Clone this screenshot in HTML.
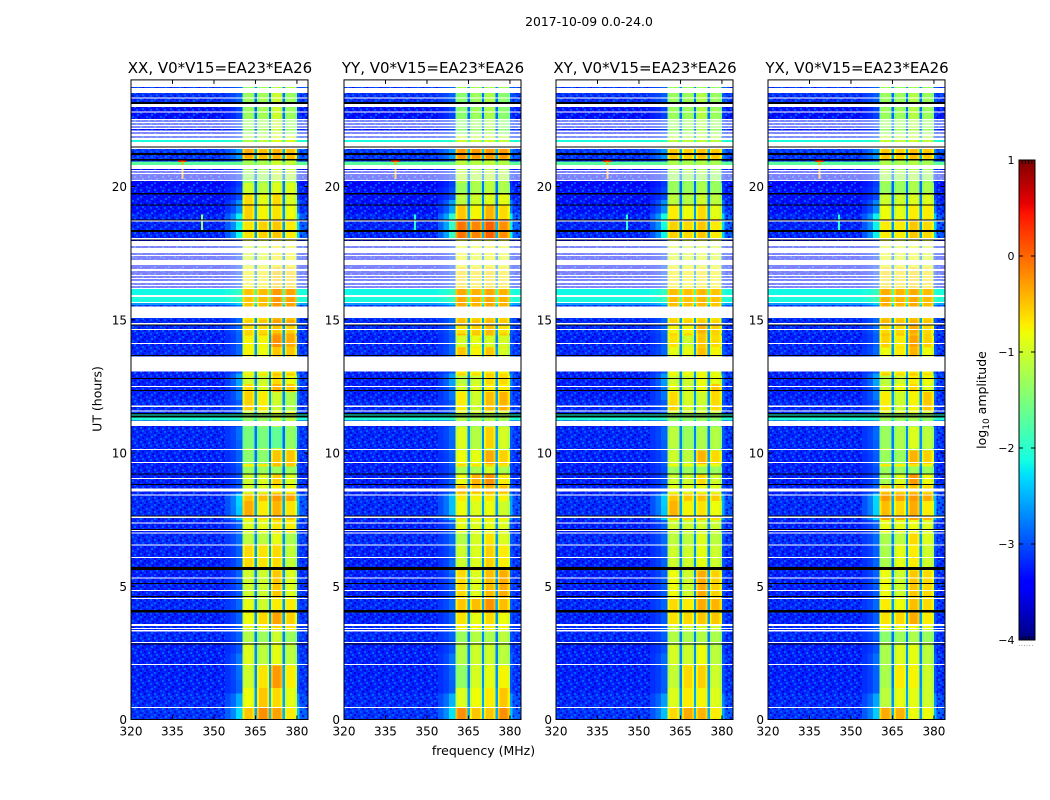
<!DOCTYPE html>
<html>
<head>
<meta charset="utf-8">
<title>2017-10-09 spectrogram panels</title>
<style>
html,body{margin:0;padding:0;background:#fff;}
svg{display:block;}
text{font-family:"DejaVu Sans","Liberation Sans",sans-serif;fill:#000;}
</style>
</head>
<body>
<svg id="chart" xmlns="http://www.w3.org/2000/svg" width="1050" height="800" viewBox="0 0 1050 800">
  <defs>
    <pattern id="speckle" patternUnits="userSpaceOnUse" width="14" height="14">
      <rect x="0" y="0" width="2" height="2" fill="#0070ff" opacity="0.8"/>
      <rect x="4" y="0" width="2" height="2" fill="#0000c8" opacity="0.8"/>
      <rect x="8" y="1" width="2" height="2" fill="#0000e0" opacity="0.7"/>
      <rect x="11" y="2" width="2" height="2" fill="#0080ff" opacity="0.7"/>
      <rect x="2" y="3" width="2" height="2" fill="#0000d8" opacity="0.8"/>
      <rect x="6" y="4" width="2" height="2" fill="#0068ff" opacity="0.8"/>
      <rect x="12" y="5" width="2" height="2" fill="#0000c0" opacity="0.8"/>
      <rect x="9" y="5" width="2" height="2" fill="#0050ff" opacity="0.7"/>
      <rect x="0" y="7" width="2" height="2" fill="#0088ff" opacity="0.6"/>
      <rect x="4" y="7" width="2" height="2" fill="#0000d0" opacity="0.8"/>
      <rect x="8" y="8" width="2" height="2" fill="#0078ff" opacity="0.8"/>
      <rect x="12" y="8" width="2" height="2" fill="#0000e0" opacity="0.7"/>
      <rect x="2" y="10" width="2" height="2" fill="#006cff" opacity="0.8"/>
      <rect x="6" y="11" width="2" height="2" fill="#0000c8" opacity="0.7"/>
      <rect x="10" y="11" width="2" height="2" fill="#0074ff" opacity="0.7"/>
      <rect x="0" y="12" width="2" height="2" fill="#0000d4" opacity="0.7"/>
      <rect x="4" y="12" width="2" height="2" fill="#0050ff" opacity="0.6"/>
    </pattern>
  </defs>
  <text x="589" y="26" font-size="12.4" text-anchor="middle">2017-10-09 0.0-24.0</text>
  <text x="483.5" y="755" font-size="12.5" text-anchor="middle">frequency (MHz)</text>
  <text transform="translate(101.5,399) rotate(-90)" font-size="12.5" text-anchor="middle">UT (hours)</text>
  <text transform="translate(986,400) rotate(-90)" font-size="12.5" text-anchor="middle">log<tspan font-size="9" dy="3">10</tspan><tspan dy="-3"> amplitude</tspan></text>
  <text x="1026" y="646" font-size="7" fill="#777" style="fill:#777" text-anchor="middle" letter-spacing="0.4">......</text>
</svg>
<script>
// ---- data ----
var panelNames = ['XX', 'YY', 'XY', 'YX'];
var baselineName = 'V0*V15=EA23*EA26';
var xTicks = [320, 335, 350, 365, 380];
var yTicks = [0, 5, 10, 15, 20];
var colorbarTicks = [1, 0, -1, -2, -3, -4];
var colorbarTickLabels = ['1', '0', '\u22121', '\u22122', '\u22123', '\u22124'];

// frequency channel edges in MHz
var channelEdges = [320, 330, 340, 350, 354, 356, 358, 360.4, 361.1, 363.9, 364.7, 365.5, 366.2, 369.2, 369.9, 370.7, 371.4, 374.1, 374.8, 375.6, 376.3, 379.2, 379.9, 381, 384];
// share of band power in each channel (0 = background only, 1 = full band level)
var channelWeight = [0, 0, 0, 0, 0.03, 0.06, 0.12, 0.91, 1, 0.93, 0.22, 0.9, 1, 0.93, 0.24, 0.92, 1, 0.93, 0.22, 0.9, 1, 0.91, 0.1, 0.03];
// sub-band index per channel (-1 = none)
var channelSub = [-1, -1, -1, -1, -1, -1, -1, 0, 0, 0, 0, 1, 1, 1, 1, 2, 2, 2, 2, 3, 3, 3, 3, 3];

// half-hour background level, log10 amplitude
var bgLevels = [-3.13, -3.18, -3.23, -3.23, -3.23, -3.23, -3.18, -3.23, -3.18, -3.23, -3.23, -3.23, -3.23, -3.18, -3.23, -3.18, -3.18, -3.23, -3.23, -3.23, -3.2, -3.2, -3.23, -3.18, -3.23, -3.23, -3.23, -3.18, -3.23, -3.18, -3.18, -3.08, -3.3, -3.35, -3.35, -3.35, -3.2, -3.2, -3.3, -3.3, -3.35, -3.35, -3.1, -3.25, -3.3, -3.3, -3.15, -3.1];
// half-hour strength of the skirt beside the band
var shoulderBoost = [2.5, 2, 1.2, 1.2, 1.5, 1, 1, 1, 1, 1, 1, 1.2, 1, 1.2, 1.2, 2.5, 2.5, 1, 1, 1, 1.2, 1.5, 1, 1, 1.5, 2, 1, 1, 1, 1, 1, 1, 1, 1, 1, 1, 3.2, 3.2, 2, 1, 1, 1, 1.5, 1, 1, 1, 1, 1];

// half-hour band level, log10 amplitude
var levelXX = [-0.35, -0.5, -0.85, -0.45, -0.8, -0.95, -0.75, -0.5, -0.6, -0.75, -0.55, -0.85, -0.55, -0.8, -0.75, -0.55, -0.35, -0.8, -1.1, -0.55, -1.1, -1.2, -1.2, -0.9, -0.7, -0.55, -0.75, -0.6, -0.4, -0.4, -0.5, -0.35, -0.6, -0.6, -0.8, -0.8, -0.45, -0.55, -0.7, -0.8, -1.2, -1.1, -0.5, -1, -1.2, -1.2, -1.2, -1.2];
var levelYY = [-0.2, -0.35, -1, -0.75, -0.85, -1, -0.75, -0.6, -0.35, -0.65, -0.55, -0.5, -0.6, -0.85, -0.85, -0.7, -0.7, -0.4, -1, -0.6, -1, -1.2, -1.2, -0.9, -0.8, -0.55, -0.7, -0.55, -0.45, -0.45, -0.5, -0.35, -0.6, -0.6, -0.8, -0.8, 0.05, 0, -0.35, -0.7, -1.1, -1.1, -0.4, -1, -1.2, -1.2, -1.2, -1.2];
var levelXY = [-0.85, -0.8, -1.05, -1.05, -1.1, -1.15, -1, -0.85, -0.75, -0.75, -0.6, -0.9, -0.8, -1, -1, -0.6, -0.5, -0.85, -1.2, -0.8, -1.2, -1.35, -1.35, -1, -0.85, -0.75, -0.85, -0.7, -0.55, -0.55, -0.6, -0.45, -0.7, -0.7, -0.9, -0.9, -0.5, -0.4, -0.75, -1, -1.3, -1.2, -0.6, -1.1, -1.3, -1.3, -1.3, -1.3];
var levelYX = [-0.6, -0.6, -1, -0.85, -1, -1.1, -0.85, -0.7, -0.6, -0.75, -0.5, -0.75, -0.55, -0.85, -0.85, -0.35, -0.3, -0.55, -1.1, -0.7, -1.15, -1.3, -1.3, -0.9, -0.7, -0.55, -0.7, -0.55, -0.5, -0.45, -0.5, -0.4, -0.6, -0.6, -0.85, -0.85, -0.55, -0.55, -0.85, -1, -1.25, -1.2, -0.55, -1.05, -1.3, -1.3, -1.3, -1.3];
var panelLevels = [levelXX, levelYY, levelXY, levelYX];

// sub-band offsets per panel
var subOffsetXX = [-0.15, -0.1, 0.1, 0.05];
var subOffsetYY = [0, -0.05, 0.02, -0.05];
var subOffsetXY = [0, -0.02, 0.03, -0.03];
var subOffsetYX = [0.03, -0.02, 0.05, -0.05];
var panelSubOffsets = [subOffsetXX, subOffsetYY, subOffsetXY, subOffsetYX];

// time windows with per-sub-band levels
var windowStart = [0, 0.45, 1.2, 2.05, 2.9, 3.55, 4.1, 4.6, 5.7, 6.6, 7.6, 8.8, 9.2, 9.6, 10.2, 11.6, 12.3, 12.6, 13.6, 14, 14.5, 18.07, 18.8, 19.3, 19.75, 21.07, 22];
var windowEnd = [0.45, 1.2, 2.05, 2.8, 3.3, 4, 4.55, 5.6, 6.6, 7, 8.2, 9.2, 9.5, 10.1, 10.97, 12.3, 12.6, 12.9, 13.95, 14.4, 14.85, 18.67, 19.3, 19.68, 20.13, 21.4, 23.5];
var windowXX = [[-0.5, -0.2, -0.3, -0.7], [-0.8, -0.5, -0.6, -0.85], [-1, -0.65, -0.25, -0.7], [-0.9, -1.1, -0.85, -1.1], [-1.15, -1.3, -1, -1.3], [-0.8, -0.6, -0.3, -0.55], [-0.85, -1, -0.7, -0.7], [-1, -1, -0.5, -0.9], [-0.6, -0.65, -0.6, -1.05], [-1.1, -1.1, -0.85, -1.2], [-0.35, -0.7, -0.4, -0.65], [-1, -0.9, -0.55, -0.9], [-1.3, -1.3, -1.3, -1.3], [-1.4, -1.4, -0.5, -0.5], [-1.5, -1.5, -1.65, -1.35], [-0.55, -0.7, -1, -1.2], [-0.6, -0.9, -0.4, -0.5], [-1, -1, -0.6, -0.8], [-0.75, -0.8, -0.5, -0.5], [-0.75, -0.75, -0.2, -0.35], [-0.6, -0.6, -0.5, -0.55], [-0.65, -0.55, -0.5, -0.7], [-0.55, -0.75, -0.65, -0.8], [-0.6, -0.85, -0.6, -0.9], [-1, -1.1, -0.9, -0.9], [-0.35, -0.45, -0.4, -0.45], [-1.3, -1.25, -1, -1.3]];
var windowYY = [[-0.2, -0.5, -0.5, -0.2], [-0.9, -0.8, -0.7, -0.5], [-1.35, -0.95, -0.85, -0.75], [-1.15, -1, -1, -1.1], [-1.3, -1.15, -1.2, -1.1], [-0.65, -0.85, -0.6, -0.8], [-0.5, -0.45, -0.2, -0.45], [-0.6, -0.9, -0.45, -0.35], [-1, -0.9, -0.55, -0.7], [-1.15, -0.95, -0.65, -0.9], [-0.8, -0.9, -0.8, -1], [-0.8, -0.4, -0.2, -0.7], [-1.2, -1.2, -1, -1.2], [-0.8, -0.85, -0.35, -0.55], [-0.9, -1.15, -0.55, -0.95], [-0.7, -1, -0.45, -0.4], [-0.95, -0.9, -0.7, -0.7], [-1.1, -1, -0.6, -0.6], [-0.5, -0.75, -0.5, -0.95], [-0.95, -0.85, -0.95, -0.95], [-0.65, -0.55, -0.45, -0.65], [-0.05, -0.15, 0.05, -0.2], [-0.5, -0.75, -0.4, -0.6], [-1.1, -1, -0.9, -0.85], [-1.3, -1.2, -1.1, -1.2], [-0.25, -0.25, -0.25, -0.25], [-1.4, -1.3, -1.2, -1.4]];
var windowXY = [[-0.6, -0.35, -0.4, -0.7], [-0.9, -0.7, -0.75, -0.9], [-1.05, -0.6, -0.55, -1], [-0.95, -1, -0.8, -1.1], [-1.15, -1.2, -1.15, -1.2], [-0.65, -0.6, -0.5, -0.5], [-0.6, -0.7, -0.35, -0.4], [-0.8, -1, -0.35, -0.55], [-1, -1, -0.85, -1], [-1.1, -1.1, -0.9, -1.1], [-0.4, -0.75, -0.65, -0.8], [-1, -1, -0.6, -1], [-1.3, -1.3, -1.3, -1.3], [-1, -1.1, -0.4, -0.6], [-1.1, -1.3, -1.2, -1.15], [-0.6, -0.95, -1, -0.6], [-0.85, -1, -0.8, -0.5], [-1, -1, -0.8, -0.85], [-0.85, -0.85, -0.45, -0.75], [-0.65, -1, -0.5, -0.6], [-0.75, -0.75, -0.4, -0.55], [-0.55, -0.6, -0.5, -0.7], [-0.7, -0.8, -0.6, -0.85], [-1.1, -1.15, -1, -1.1], [-1.3, -1.3, -1.2, -1.3], [-0.5, -0.55, -0.45, -0.5], [-1.3, -1.3, -1.15, -1.3]];
var windowYX = [[-0.35, -0.4, -0.8, -0.8], [-1.1, -0.85, -0.85, -1], [-1.2, -0.7, -0.75, -1], [-1.2, -0.9, -0.85, -1.1], [-1.4, -1.3, -1.2, -1.3], [-0.65, -0.6, -0.35, -0.7], [-0.7, -0.8, -0.45, -0.6], [-0.8, -1, -0.5, -0.6], [-1.2, -0.85, -0.7, -1], [-1.2, -1.1, -0.6, -0.9], [-0.45, -0.6, -0.35, -0.7], [-1.2, -0.9, -0.25, -0.8], [-1.3, -1.3, -1.3, -1.3], [-1.3, -1.3, -0.4, -0.55], [-1.3, -1.2, -0.9, -1.1], [-0.7, -1, -0.75, -0.5], [-1, -0.8, -0.6, -0.9], [-1.1, -1, -0.7, -0.8], [-0.8, -0.7, -0.4, -0.8], [-0.55, -0.7, -0.3, -0.55], [-0.6, -0.6, -0.35, -0.6], [-0.7, -0.7, -0.5, -0.6], [-0.8, -0.85, -0.7, -0.7], [-1, -1, -0.9, -0.9], [-1.3, -1.3, -1.2, -1.2], [-0.5, -0.55, -0.45, -0.5], [-1.3, -1.3, -1.15, -1.3]];
var panelWindows = [windowXX, windowYY, windowXY, windowYX];

// rows with raised background: start hour, end hour, level
var brightStart = [15.56, 15.67, 15.93, 11.24, 11.4, 20.81, 21.67];
var brightEnd = [15.63, 15.85, 16.15, 11.34, 11.44, 20.94, 21.74];
var brightLevel = [-2.6, -2.1, -2.15, -2.05, -2.1, -1.7, -2.1];

// narrow interference: freq low, freq high, hour start, hour end, level
var rfiFreqLow = [337, 338.3, 345.4];
var rfiFreqHigh = [340, 339, 346];
var rfiStart = [20.92, 20.28, 18.35];
var rfiEnd = [20.98, 20.94, 18.95];
var rfiLevelXX = [0.35, -0.4, -1.3];
var rfiLevelYY = [0.35, -0.4, -2];
var rfiLevelXY = [0.35, -0.4, -2];
var rfiLevelYX = [0.35, -0.4, -2];
var panelRfi = [rfiLevelXX, rfiLevelYY, rfiLevelXY, rfiLevelYX];

// flagged (blank) time ranges in hours
var whiteStart = [0.43, 2.04, 2.87, 3.3, 3.4, 3.51, 4.52, 4.83, 5.29, 6.07, 6.55, 6.98, 7.07, 7.36, 7.56, 8.41, 8.56, 9.02, 9.63, 10.11, 11.02, 11.55, 11.73, 12.48, 13.05, 14.09, 14.62, 14.82, 15.07, 15.63, 15.85, 16.15, 16.25, 16.36, 16.51, 16.62, 16.74, 16.81, 16.96, 17.04, 17.3, 17.37, 17.49, 17.75, 18.02, 18.69, 20.2, 20.3, 20.38, 20.45, 20.56, 20.66, 21.41, 21.5, 21.74, 21.88, 22.03, 22.15, 22.26, 22.37, 22.48, 22.78, 22.98, 23.3, 23.5, 23.74];
var whiteEnd = [0.47, 2.08, 2.9, 3.35, 3.44, 3.58, 4.56, 4.86, 5.33, 6.1, 6.57, 7.02, 7.11, 7.39, 7.64, 8.44, 8.67, 9.06, 9.66, 10.15, 11.21, 11.6, 11.78, 12.51, 13.62, 14.13, 14.66, 14.88, 15.5, 15.67, 15.93, 16.21, 16.32, 16.47, 16.58, 16.7, 16.77, 16.92, 17, 17.26, 17.33, 17.45, 17.71, 17.95, 18.07, 18.74, 20.26, 20.34, 20.41, 20.52, 20.62, 20.81, 21.48, 21.67, 21.84, 21.99, 22.11, 22.22, 22.33, 22.44, 22.54, 22.82, 23.1, 23.34, 23.7, 24];

// zero-amplitude (black) time ranges in hours
var blackStart = [2.82, 4.01, 4.6, 5.1, 5.61, 7.11, 7.64, 8.8, 9.21, 11.34, 11.44, 12.33, 12.78, 13.64, 14.78, 18, 18.3, 18.74, 19.31, 19.7, 20.98, 21.18, 21.48, 23.1];
var blackEnd = [2.86, 4.11, 4.63, 5.12, 5.73, 7.15, 7.66, 8.84, 9.23, 11.4, 11.51, 12.36, 12.81, 13.68, 14.82, 18.02, 18.37, 18.76, 19.33, 19.76, 21.03, 21.26, 21.5, 23.17];

// ---- scales ----
var NS = 'http://www.w3.org/2000/svg';
var svg = document.getElementById('chart');
var axisTop = 79.9, axisBottom = 719.5, axisWidth = 177, fMin = 320, fMax = 384, tMax = 24;
var cbLeft = 1019, cbRight = 1035, cbTop = 160, cbBottom = 640, vMin = -4, vMax = 1;

function panelLeft(i) { return Math.ceil(131 + 212.33 * i - 0.05); }
function xScale(f, i) { return panelLeft(i) + (f - fMin) / (fMax - fMin) * axisWidth; }
function yScale(t) { return axisBottom - t / tMax * (axisBottom - axisTop); }
function cbScale(v) { return cbBottom - (v - vMin) / (vMax - vMin) * (cbBottom - cbTop); }

function piece(x, pts) {
  for (var k = 1; k < pts.length; k++) {
    if (x <= pts[k][0]) {
      var a = pts[k - 1], b = pts[k];
      return a[1] + (x - a[0]) / (b[0] - a[0]) * (b[1] - a[1]);
    }
  }
  return pts[pts.length - 1][1];
}
function jet(v) {
  var t = Math.max(0, Math.min(1, (v - vMin) / (vMax - vMin)));
  var r = piece(t, [[0, 0], [0.35, 0], [0.66, 1], [0.89, 1], [1, 0.5]]);
  var g = piece(t, [[0, 0], [0.125, 0], [0.375, 1], [0.64, 1], [0.91, 0], [1, 0]]);
  var b = piece(t, [[0, 0.5], [0.11, 1], [0.34, 1], [0.65, 0], [1, 0]]);
  return 'rgb(' + Math.round(r * 255) + ',' + Math.round(g * 255) + ',' + Math.round(b * 255) + ')';
}
function rectEl(parent, x, y, w, h, fill) {
  var r = document.createElementNS(NS, 'rect');
  r.setAttribute('x', x);
  r.setAttribute('y', y);
  r.setAttribute('width', w);
  r.setAttribute('height', h);
  r.setAttribute('fill', fill);
  parent.appendChild(r);
  return r;
}
function lineEl(parent, x1, y1, x2, y2) {
  var l = document.createElementNS(NS, 'line');
  l.setAttribute('x1', x1);
  l.setAttribute('y1', y1);
  l.setAttribute('x2', x2);
  l.setAttribute('y2', y2);
  l.setAttribute('stroke', '#000');
  l.setAttribute('stroke-width', '1');
  parent.appendChild(l);
  return l;
}
function textEl(parent, x, y, str, size, anchor) {
  var t = document.createElementNS(NS, 'text');
  t.setAttribute('x', x);
  t.setAttribute('y', y);
  t.setAttribute('font-size', size);
  t.setAttribute('text-anchor', anchor);
  t.textContent = str;
  parent.appendChild(t);
  return t;
}
function channelValue(c, bg, band, boost) {
  var w = channelSub[c] < 0 || channelWeight[c] < 0.15 ? channelWeight[c] * boost : channelWeight[c];
  return bg + w * (band - bg);
}

// ---- panels ----
panelNames.forEach(function (name, p) {
  var g = document.createElementNS(NS, 'g');
  
  
  svg.appendChild(g);

  var cells = document.createElementNS(NS, 'g');
  
  
  cells.setAttribute('shape-rendering', 'crispEdges');
  g.appendChild(cells);

  var levels = panelLevels[p];
  var offsets = panelSubOffsets[p];

  function binOf(t) { return Math.min(levels.length - 1, Math.floor(t / 0.5)); }

  function cellRow(t0, t1, bg, band, boost) {
    for (var c = 0; c < channelWeight.length; c++) {
      var sub = channelSub[c];
      var b = sub >= 0 ? band + offsets[sub] : band;
      var x0 = xScale(channelEdges[c], p);
      var x1 = xScale(channelEdges[c + 1], p);
      var y0 = yScale(t1);
      var y1 = yScale(t0);
      var cell = rectEl(cells, x0, y0, x1 - x0 + 0.4, y1 - y0 + 0.4, jet(channelValue(c, bg, b, boost)));
      
      
    }
  }
  levels.forEach(function (band, k) {
    cellRow(k * 0.5, (k + 1) * 0.5, bgLevels[k], band, shoulderBoost[k]);
  });

  // receiver-noise texture over the empty part of the band
  var sp1 = rectEl(cells, xScale(fMin, p), yScale(tMax), xScale(354, p) - xScale(fMin, p), yScale(0) - yScale(tMax), 'url(#speckle)');
  
  
  var sp2 = rectEl(cells, xScale(381, p), yScale(tMax), xScale(fMax, p) - xScale(381, p), yScale(0) - yScale(tMax), 'url(#speckle)');
  
  

  // per-sub-band levels in selected time windows
  panelWindows[p].forEach(function (subLevels, w) {
    var t0 = windowStart[w], t1 = windowEnd[w];
    var bg = bgLevels[binOf(t0)];
    for (var c = 0; c < channelWeight.length; c++) {
      var sub = channelSub[c];
      if (sub < 0 || channelWeight[c] < 0.15) continue;
      var x0 = xScale(channelEdges[c], p);
      var x1 = xScale(channelEdges[c + 1], p);
      var y0 = yScale(t1);
      var cell = rectEl(cells, x0, y0, x1 - x0 + 0.4, yScale(t0) - y0 + 0.4, jet(channelValue(c, bg, subLevels[sub], 1)));
      
      
    }
  });

  brightStart.forEach(function (t0, k) {
    var bin = binOf(t0);
    cellRow(t0, brightEnd[k], brightLevel[k], levels[bin], 1);
  });

  rfiFreqLow.forEach(function (f0, k) {
    var x0 = xScale(f0, p);
    var r = rectEl(cells, x0, yScale(rfiEnd[k]), xScale(rfiFreqHigh[k], p) - x0, yScale(rfiStart[k]) - yScale(rfiEnd[k]), jet(panelRfi[p][k]));
    
    
  });

  whiteStart.forEach(function (t0, k) {
    var y0 = yScale(whiteEnd[k]);
    var r = rectEl(cells, panelLeft(p), y0, axisWidth, Math.max(1, yScale(t0) - y0), '#fff');
    
    
  });
  blackStart.forEach(function (t0, k) {
    var y0 = yScale(blackEnd[k]);
    var r = rectEl(cells, panelLeft(p), y0, axisWidth, Math.max(1, yScale(t0) - y0), '#000');
    
    
  });

  // frame
  var L = panelLeft(p), R = L + axisWidth;
  var frame = rectEl(g, L, axisTop, axisWidth, axisBottom - axisTop, 'none');
  frame.setAttribute('stroke', '#000');
  frame.setAttribute('stroke-width', '1');
  
  

  // ticks
  xTicks.forEach(function (f) {
    var x = xScale(f, p);
    var a = lineEl(g, x, axisBottom, x, axisBottom - 4);
    
    
    var b = lineEl(g, x, axisTop, x, axisTop + 4);
    
    
    var lab = textEl(g, x, axisBottom + 16, String(f), 12, 'middle');
    
    
  });
  yTicks.forEach(function (t) {
    var y = yScale(t);
    var a = lineEl(g, L, y, L + 4, y);
    
    
    var b = lineEl(g, R, y, R - 4, y);
    
    
    var lab = textEl(g, L - 4, y + 4.5, String(t), 12, 'end');
    
    
  });

  var title = textEl(g, L + axisWidth / 2 + 0.5, 73, name + ', ' + baselineName, 15, 'middle');
  
  
});

// ---- colorbar ----
var cb = document.createElementNS(NS, 'g');


svg.appendChild(cb);
var cbStrip = document.createElementNS(NS, 'g');
cbStrip.setAttribute('shape-rendering', 'crispEdges');


cb.appendChild(cbStrip);
var cbSteps = 240;
for (var s = 0; s < cbSteps; s++) {
  var vLow = vMin + (vMax - vMin) * s / cbSteps;
  var vHigh = vMin + (vMax - vMin) * (s + 1) / cbSteps;
  var seg = rectEl(cbStrip, cbLeft, cbScale(vHigh), cbRight - cbLeft, cbScale(vLow) - cbScale(vHigh) + 0.4, jet((vLow + vHigh) / 2));
  
  
}
var cbFrame = rectEl(cb, cbLeft, cbTop, cbRight - cbLeft, cbBottom - cbTop, 'none');
cbFrame.setAttribute('stroke', '#000');
cbFrame.setAttribute('stroke-width', '1');


colorbarTicks.forEach(function (v, k) {
  var y = cbScale(v);
  var a = lineEl(cb, cbLeft, y, cbLeft + 4, y);
  
  
  var b = lineEl(cb, cbRight, y, cbRight - 4, y);
  
  
  var lab = textEl(cb, cbLeft - 4.5, y + 4, colorbarTickLabels[k], 11, 'end');
  
  
});
for (var m = 1; m <= 4; m++) {
  var mx = cbLeft + (cbRight - cbLeft) * m / 5;
  var m1 = lineEl(cb, mx, cbTop, mx, cbTop + 4);
  
  
  var m2 = lineEl(cb, mx, cbBottom, mx, cbBottom - 4);
  
  
}
</script>
</body>
</html>
